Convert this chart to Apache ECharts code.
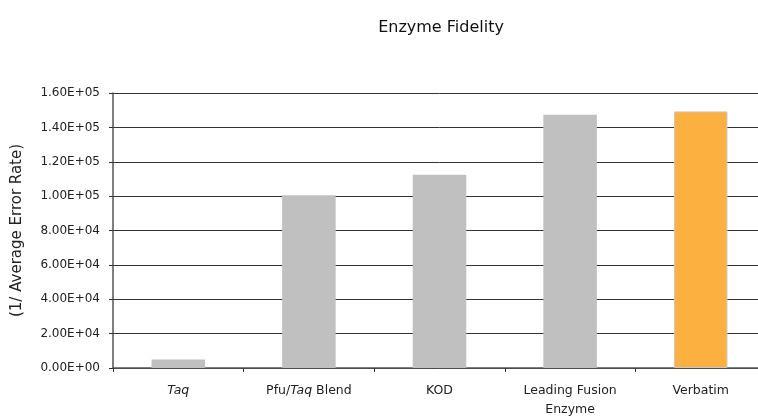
<!DOCTYPE html>
<html>
<head>
<meta charset="utf-8">
<script src="https://cdn.jsdelivr.net/npm/echarts@6/dist/echarts.min.js"></script>
<style>
html, body { margin: 0; padding: 0; background: #fff; overflow: hidden; }
#chart { width: 766px; height: 419px; }
</style>
</head>
<body>
<div id="chart"></div>
<script>
var categories = ["Taq", "Pfu/Taq Blend", "KOD", "Leading Fusion\nEnzyme", "Verbatim"];
var values = [5000, 100500, 112500, 147300, 149300];
var highlight = "Verbatim";

function sci(v) {
    if (v === 0) return "0.00E+00";
    var s = v.toExponential(2).split("e");
    var exp = parseInt(s[1], 10);
    var e = (exp < 0 ? "-" : "+") + (Math.abs(exp) < 10 ? "0" : "") + Math.abs(exp);
    return s[0] + "E" + e;
}

var chart = echarts.init(document.getElementById("chart"));
chart.setOption({
    animation: false,
    textStyle: { fontFamily: "DejaVu Sans, sans-serif" },
    title: {
        text: "Enzyme Fidelity",
        left: 436,
        top: 15,
        textAlign: "center",
        textStyle: { fontSize: 16, fontWeight: "normal", color: "#111", fontFamily: "DejaVu Sans" }
    },
    grid: { left: 113, right: 0, top: 93, bottom: 50 },
    xAxis: {
        type: "category",
        data: categories,
        axisLine: { lineStyle: { color: "#555", width: 1.5 } },
        axisTick: { show: true, length: 4, interval: 0, lineStyle: { color: "#333" } },
        axisLabel: {
            interval: 0,
            hideOverlap: false,
            color: "#222",
            fontSize: 12.5,
            margin: 13,
            lineHeight: 19,
            formatter: function (v) {
                if (v === "Taq") return "{i|Taq}";
                if (v === "Pfu/Taq Blend") return "Pfu/{i|Taq} Blend";
                return v;
            },
            rich: { i: { fontStyle: "italic", fontSize: 12.5, color: "#222", fontFamily: "DejaVu Sans" } }
        }
    },
    yAxis: {
        type: "value",
        min: 0,
        max: 160000,
        interval: 20000,
        name: "(1/ Average Error Rate)",
        nameLocation: "middle",
        nameGap: 88,
        nameTextStyle: { fontSize: 15, color: "#222" },
        axisLine: { show: true, lineStyle: { color: "#555", width: 1.5 } },
        axisTick: { show: true, length: 4, lineStyle: { color: "#333" } },
        splitLine: { lineStyle: { color: "#333", width: 1 } },
        axisLabel: { color: "#222", fontSize: 12, margin: 13, formatter: sci }
    },
    series: [{
        type: "bar",
        barWidth: "41%",
        data: values.map(function (v, i) {
            if (categories[i] === highlight) {
                return { value: v, itemStyle: { color: "#FBB040", borderColor: "#C8C8C8", borderWidth: 1 } };
            }
            return { value: v, itemStyle: { color: "#C0C0C0" } };
        })
    }]
});
</script>
</body>
</html>
